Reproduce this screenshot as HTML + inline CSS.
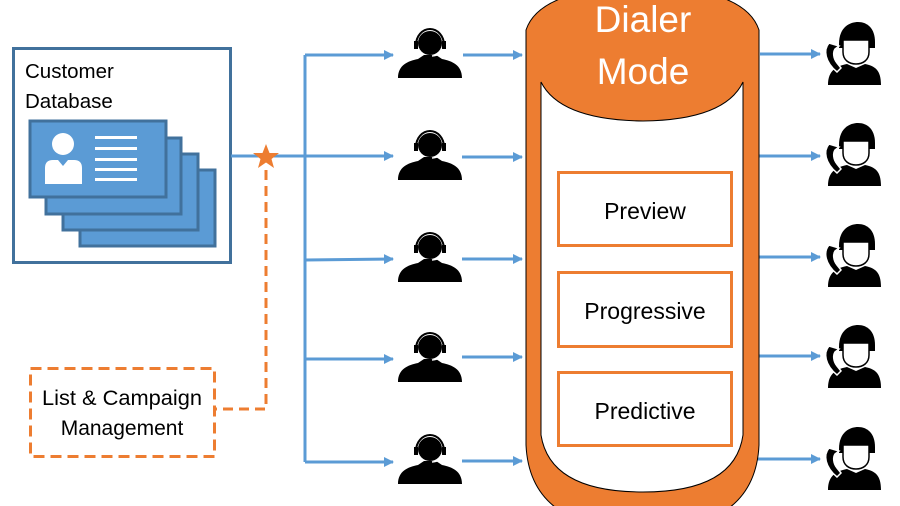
<!DOCTYPE html>
<html><head><style>html,body{margin:0;padding:0;background:#fff}svg{display:block}</style></head>
<body>
<svg width="900" height="506" viewBox="0 0 900 506" xmlns="http://www.w3.org/2000/svg" font-family="'Liberation Sans', sans-serif">
<defs>
<marker id="ar" markerWidth="10" markerHeight="10" refX="9" refY="5" orient="auto" markerUnits="userSpaceOnUse">
<path d="M0,0 L10,5 L0,10 Z" fill="#5b9bd5"/></marker>
<g id="agent">
<circle cx="0" cy="-12" r="12" fill="#000"/>
<path d="M-32,23 C-32,10 -22,6 -12,4 L-6,0 L6,0 L12,4 C22,6 32,10 32,23 Z" fill="#000"/>
<path d="M-14,-10 A14,16 0 0 1 14,-10" fill="none" stroke="#000" stroke-width="2"/>
<rect x="-16" y="-14" width="4" height="8" fill="#000"/>
<rect x="12" y="-14" width="4" height="8" fill="#000"/>
<path d="M13,-6 Q12,0 2,1" fill="none" stroke="#fff" stroke-width="1.5"/>
</g>
<g id="cust">
<path d="M-16,-6 C-16,-24 -4,-28 3,-28 C12,-28 20,-22 20,-8 L20,-2 L-16,-2 Z" fill="#000"/>
<path d="M-12,-10 L14,-10 L14,2 C14,10 8,14 1,14 C-6,14 -12,10 -12,2 Z" fill="#fff" stroke="#000" stroke-width="1.5"/>
<path d="M-27,35 C-27,20 -18,16 -8,14 L1,18 L10,14 C20,16 26,20 26,35 Z" fill="#000"/>
<path d="M-26,-7 C-32,0 -30,12 -18,22 L-14,18 L-18,13 C-22,8 -22,2 -20,-1 L-16,-4 Z" fill="#000" stroke="#fff" stroke-width="1.5"/>
</g>
</defs>

<rect x="13.5" y="48.5" width="217" height="214" fill="#fff" stroke="#41719c" stroke-width="3"/>
<text x="25" y="78" font-size="20.5" fill="#000">Customer</text>
<text x="25" y="108" font-size="20.5" fill="#000">Database</text>
<g fill="#5b9bd5" stroke="#41719c" stroke-width="3">
<rect x="80" y="170" width="135" height="76"/>
<rect x="63" y="154" width="135" height="76"/>
<rect x="46" y="138" width="135" height="76"/>
<rect x="30" y="121" width="136" height="76"/>
</g>
<circle cx="63" cy="144" r="11" fill="#fff"/>
<path d="M45,184 L45,168 Q45,160 53,160 L58,160 L63,166 L68,160 L74,160 Q82,160 82,168 L82,184 Z" fill="#fff"/>
<g fill="#fff"><rect x="95" y="136" width="42" height="3"/><rect x="95" y="147" width="42" height="3"/><rect x="95" y="158" width="42" height="3"/><rect x="95" y="168" width="42" height="3"/><rect x="95" y="178" width="42" height="3"/></g>

<g stroke="#5b9bd5" stroke-width="3" fill="none">
<line x1="231" y1="156" x2="305" y2="156"/>
<line x1="305" y1="55" x2="305" y2="462"/>
<line x1="305" y1="55" x2="393" y2="55" marker-end="url(#ar)"/>
<line x1="305" y1="156" x2="393" y2="156" marker-end="url(#ar)"/>
<line x1="305" y1="260" x2="393" y2="259" marker-end="url(#ar)"/>
<line x1="305" y1="359" x2="393" y2="359" marker-end="url(#ar)"/>
<line x1="305" y1="462" x2="393" y2="462" marker-end="url(#ar)"/>
<line x1="463" y1="55" x2="522" y2="55" marker-end="url(#ar)"/>
<line x1="462" y1="157" x2="522" y2="157" marker-end="url(#ar)"/>
<line x1="462" y1="259" x2="522" y2="259" marker-end="url(#ar)"/>
<line x1="462" y1="357" x2="522" y2="357" marker-end="url(#ar)"/>
<line x1="462" y1="461" x2="522" y2="461" marker-end="url(#ar)"/>
<line x1="760" y1="54" x2="820" y2="54" marker-end="url(#ar)"/>
<line x1="757" y1="156" x2="820" y2="156" marker-end="url(#ar)"/>
<line x1="757" y1="257" x2="820" y2="257" marker-end="url(#ar)"/>
<line x1="757" y1="356" x2="820" y2="356" marker-end="url(#ar)"/>
<line x1="757" y1="459" x2="820" y2="459" marker-end="url(#ar)"/>
</g>

<path d="M266,170 L266,409 L214,409" fill="none" stroke="#ed7d31" stroke-width="3" stroke-dasharray="10,6"/>
<rect x="30.5" y="368.5" width="184" height="88" fill="#fff" stroke="#ed7d31" stroke-width="3" stroke-dasharray="11,6"/>
<text x="122" y="405" font-size="21" text-anchor="middle" textLength="160" lengthAdjust="spacingAndGlyphs">List &amp; Campaign</text>
<text x="122" y="435" font-size="21" text-anchor="middle">Management</text>
<polygon points="266,144 269.5,153 279,153 271.5,159 274,168 266,162.5 258,168 260.5,159 253,153 262.5,153" fill="#ed7d31"/>

<use href="#agent" x="430" y="55"/>
<use href="#agent" x="430" y="157"/>
<use href="#agent" x="430" y="259"/>
<use href="#agent" x="430" y="359"/>
<use href="#agent" x="430" y="461"/>

<use href="#cust" x="855" y="50"/>
<use href="#cust" x="855" y="151"/>
<use href="#cust" x="855" y="252"/>
<use href="#cust" x="855" y="353"/>
<use href="#cust" x="855" y="455"/>

<path d="M526,30 Q540,-12 643,-14 Q745,-12 759,30 L759,445 Q755,530 643,530 Q530,530 526,445 Z" fill="#ed7d31" stroke="#000" stroke-width="1"/>
<path d="M541,82 Q560,120 643,121 Q725,120 743,82 L743,435 Q735,492 643,492 Q550,492 541,435 Z" fill="#fff" stroke="#000" stroke-width="1"/>
<text x="643" y="32" font-size="37" fill="#fff" text-anchor="middle">Dialer</text>
<text x="643" y="84" font-size="37" fill="#fff" text-anchor="middle">Mode</text>
<g fill="#fff" stroke="#ed7d31" stroke-width="3">
<rect x="558.5" y="172.5" width="173" height="73"/>
<rect x="558.5" y="272.5" width="173" height="74"/>
<rect x="558.5" y="372.5" width="173" height="73"/>
</g>
<g font-size="23" text-anchor="middle" fill="#000">
<text x="645" y="219">Preview</text>
<text x="645" y="319">Progressive</text>
<text x="645" y="419">Predictive</text>
</g>
</svg>
</body></html>
